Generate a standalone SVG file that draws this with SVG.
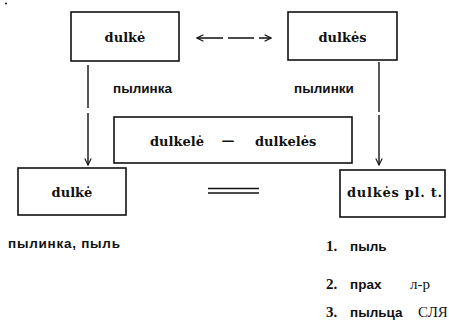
<svg xmlns="http://www.w3.org/2000/svg" width="449" height="321" viewBox="0 0 449 321">
  <style>
    .box { fill: none; stroke: #111; stroke-width: 1.6; }
    .lt { font-family: "DejaVu Serif", "Liberation Serif", serif; font-weight: bold; font-size: 13px; fill: #111; }
    .ru { font-family: "Liberation Sans", Arial, sans-serif; font-weight: bold; font-size: 13.5px; fill: #111; }
    .num { font-family: "Liberation Serif", serif; font-weight: bold; font-size: 15px; fill: #111; }
    .src { font-family: "Liberation Serif", serif; font-size: 15px; fill: #111; }
    .conn { fill: none; stroke: #111; stroke-width: 1.4; }
  </style>
  <defs>
    <marker id="arr" viewBox="0 0 10 10" refX="9" refY="5" markerWidth="8" markerHeight="8" markerUnits="userSpaceOnUse" orient="auto-start-reverse">
      <path d="M1,1 L9,5 L1,9" fill="none" stroke="#111" stroke-width="1.4"/>
    </marker>
  </defs>
  <rect width="449" height="321" fill="#fff"/>
  <circle cx="6" cy="3.5" r="1" fill="#111"/>

  <g id="connectors">
    <line class="conn" x1="197" y1="38" x2="271" y2="38" stroke-dasharray="26 5" marker-start="url(#arr)" marker-end="url(#arr)"/>
    <line class="conn" x1="88" y1="65" x2="88" y2="165" stroke-dasharray="43 5 60" marker-end="url(#arr)"/>
    <line class="conn" x1="379" y1="62" x2="379" y2="165" stroke-dasharray="50 3 60" marker-end="url(#arr)"/>
    <line class="conn" x1="208" y1="188.5" x2="259" y2="188.5"/>
    <line class="conn" x1="208" y1="193" x2="259" y2="193"/>
  </g>

  <g id="node-dulke-top">
    <rect class="box" x="71" y="12" width="108" height="49"/>
    <text class="lt" x="125" y="42" text-anchor="middle">dulkė</text>
  </g>
  <g id="node-dulkes-top">
    <rect class="box" x="288" y="12" width="109" height="48"/>
    <text class="lt" x="342.5" y="42" text-anchor="middle">dulkės</text>
  </g>
  <g id="label-pylinka">
    <text class="ru" x="142.5" y="93" text-anchor="middle">пылинка</text>
  </g>
  <g id="label-pylinki">
    <text class="ru" x="324" y="93" text-anchor="middle">пылинки</text>
  </g>
  <g id="node-dulkele">
    <rect class="box" x="114" y="117" width="238" height="46"/>
    <text class="lt" x="150" y="146">dulkelė</text>
    <text class="lt" x="228" y="145" text-anchor="middle" font-size="12">—</text>
    <text class="lt" x="255" y="146">dulkelės</text>
  </g>
  <g id="node-dulke-bottom">
    <rect class="box" x="18" y="168" width="108" height="47"/>
    <text class="lt" x="72" y="197" text-anchor="middle">dulkė</text>
  </g>
  <g id="node-dulkes-pl">
    <rect class="box" x="340" y="170" width="105" height="47"/>
    <text class="lt" x="347" y="197" textLength="95" lengthAdjust="spacing">dulkės pl. t.</text>
  </g>
  <g id="label-left">
    <text class="ru" x="8" y="248" textLength="112" lengthAdjust="spacing">пылинка, пыль</text>
  </g>
  <g id="label-list">
    <text class="num" x="326" y="251">1.</text>
    <text class="ru" x="350" y="251">пыль</text>
    <text class="num" x="326" y="289">2.</text>
    <text class="ru" x="350" y="289">прах</text>
    <text class="src" x="410" y="289">л-р</text>
    <text class="num" x="326" y="317">3.</text>
    <text class="ru" x="350" y="317">пыльца</text>
    <text class="src" x="418" y="317">СЛЯ</text>
  </g>
</svg>
